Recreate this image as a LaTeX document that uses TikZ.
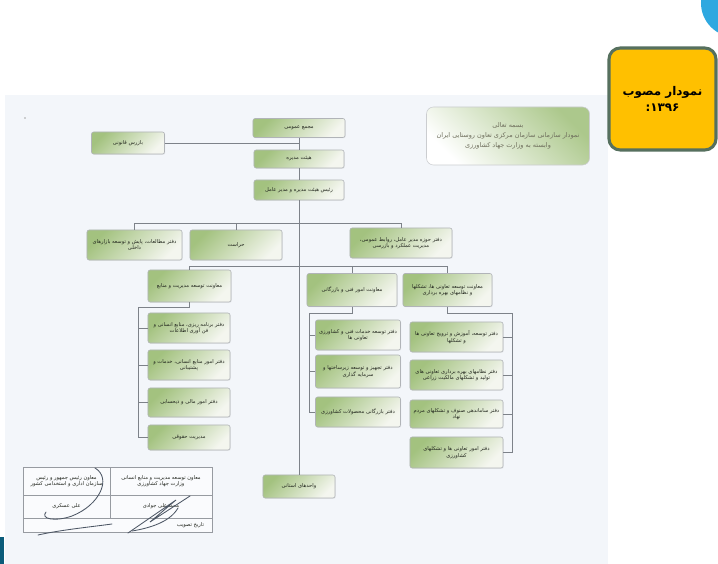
\documentclass[tikz,border=0pt]{standalone}
\usepackage{fontspec}
\usepackage{tikz}
\usetikzlibrary{shadows}
\TeXXeTstate=1
\newfontfamily\arabicfont[Script=Arabic]{DejaVu Sans}
\newcommand\fa[1]{\beginR#1\endR}
\newcommand\orgfont{\arabicfont\fontsize{3.7}{4.7}\selectfont}
\definecolor{page}{HTML}{F3F6FA}
\definecolor{boxgreen}{HTML}{A3C27F}
\definecolor{boxpale}{HTML}{F4F6EF}
\definecolor{linegray}{HTML}{7D8289}
\definecolor{inkdark}{HTML}{22261E}
\definecolor{titleink}{HTML}{6E6E5C}
\definecolor{yellowfill}{HTML}{FFC000}
\definecolor{yellowedge}{HTML}{56705E}
\definecolor{bluedot}{HTML}{2EA8E0}
\definecolor{tealbar}{HTML}{0B5C7A}
\definecolor{signink}{HTML}{4C5664}
\tikzset{
  orgbox/.style={draw=linegray!60, rounded corners=1.5pt, top color=boxgreen, bottom color=boxpale,
    shading angle=45, inner sep=1pt, align=center, font=\orgfont, text=inkdark,
    drop shadow={opacity=0.18, shadow xshift=0.5pt, shadow yshift=-0.5pt}},
  link/.style={draw=linegray, line width=0.5pt},
  tabline/.style={draw=linegray!80, line width=0.4pt},
  lab/.style={font=\orgfont, text=inkdark, align=center},
  signline/.style={draw=signink, line width=0.6pt, line cap=round},
}

\begin{document}
\begin{tikzpicture}[x=0.025cm, y=-0.025cm]
\useasboundingbox (0,0) rectangle (718,564);
% slide background
\fill[white] (0,0) rectangle (718,564);
\fill[bluedot] (735,3) circle[radius=0.85cm];
\fill[tealbar] (0,537) rectangle (4,564);
\fill[page] (5,95) rectangle (608,564);
\fill[gray!70] (25,118) circle[radius=0.6pt];

% yellow label
\node[draw=yellowedge, line width=2.2pt, fill=yellowfill, rounded corners=8pt,
  minimum width=2.675cm, minimum height=2.55cm, align=center,
  font=\arabicfont\bfseries\fontsize{8.5}{11}\selectfont] (approved) at (662.5,99)
  {\fa{نمودار مصوب}\\\fa{۱۳۹۶:}};

% title
\node[draw=linegray!40, rounded corners=5pt, top color=boxgreen!90, bottom color=white,
  shading angle=-45, minimum width=4.075cm, minimum height=1.45cm, align=center,
  font=\arabicfont\fontsize{4.6}{7}\selectfont, text=titleink] (title) at (508,136)
  {\fa{بسمه تعالی}\\\fa{نمودار سازمانی سازمان مرکزی تعاون روستایی ایران}\\\fa{وابسته به وزارت جهاد کشاورزی}};

% top of the chart
\node[orgbox, minimum width=2.3cm, minimum height=0.475cm] (gm) at (299,128) {\fa{مجمع عمومی}};
\node[orgbox, minimum width=2.25cm, minimum height=0.45cm] (hm) at (299,159) {\fa{هیئت مدیره}};
\node[orgbox, minimum width=2.25cm, minimum height=0.5cm] (ra) at (299,190) {\fa{رئیس هیئت مدیره و مدیر عامل}};
\node[orgbox, minimum width=1.825cm, minimum height=0.55cm] (bq) at (128,143) {\fa{بازرس قانونی}};
\node[orgbox, minimum width=1.8cm, minimum height=0.575cm] (ost) at (299,486.5) {\fa{واحدهای استانی}};

% second row
\node[orgbox, minimum width=2.375cm, minimum height=0.75cm] (d1) at (134.5,245)
  {\fa{دفتر مطالعات، پایش و توسعه بازارهای}\\\fa{داخلی}};
\node[orgbox, minimum width=2.3cm, minimum height=0.75cm] (hr) at (236,245) {\fa{حراست}};
\node[orgbox, minimum width=2.55cm, minimum height=0.75cm] (dh) at (401,243)
  {\fa{دفتر حوزه مدیر عامل، روابط عمومی،}\\\fa{مدیریت عملکرد و بازرسی}};

% deputies
\node[orgbox, minimum width=2.075cm, minimum height=0.8cm] (m1) at (189.5,286) {\fa{معاونت توسعه مدیریت و منابع}};
\node[orgbox, minimum width=2.25cm, minimum height=0.825cm] (m2) at (352,290) {\fa{معاونت امور فنی و بازرگانی}};
\node[orgbox, minimum width=2.225cm, minimum height=0.825cm] (m3) at (447.5,290)
  {\fa{معاونت توسعه تعاونی ها، تشکلها}\\\fa{و نظامهای بهره برداری}};

% offices, left
\node[orgbox, minimum width=2.05cm, minimum height=0.75cm] (l1) at (189,328)
  {\fa{دفتر برنامه ریزی، منابع انسانی و}\\\fa{فن آوری اطلاعات}};
\node[orgbox, minimum width=2.05cm, minimum height=0.75cm] (l2) at (189,365)
  {\fa{دفتر امور منابع انسانی، خدمات و}\\\fa{پشتیبانی}};
\node[orgbox, minimum width=2.05cm, minimum height=0.725cm] (l3) at (189,402.5) {\fa{دفتر امور مالی و ذیحسابی}};
\node[orgbox, minimum width=2.05cm, minimum height=0.625cm] (l4) at (189,437.5) {\fa{مدیریت حقوقی}};

% offices, middle
\node[orgbox, minimum width=2.125cm, minimum height=0.75cm] (c1) at (358,335)
  {\fa{دفتر توسعه خدمات فنی و کشاورزی}\\\fa{تعاونی ها}};
\node[orgbox, minimum width=2.125cm, minimum height=0.825cm] (c2) at (358,371.5)
  {\fa{دفتر تجهیز و توسعه زیرساختها و}\\\fa{سرمایه گذاری}};
\node[orgbox, minimum width=2.125cm, minimum height=0.75cm] (c3) at (358,412) {\fa{دفتر بازرگانی محصولات کشاورزی}};

% offices, right
\node[orgbox, minimum width=2.325cm, minimum height=0.75cm] (r1) at (456.5,337)
  {\fa{دفتر توسعه، آموزش و ترویج تعاونی ها}\\\fa{و تشکلها}};
\node[orgbox, minimum width=2.325cm, minimum height=0.75cm] (r2) at (456.5,375)
  {\fa{دفتر نظامهای بهره برداری تعاونی های}\\\fa{تولید و تشکلهای مالکیت زراعی}};
\node[orgbox, minimum width=2.325cm, minimum height=0.7cm] (r3) at (456.5,414)
  {\fa{دفتر ساماندهی صنوف و تشکلهای مردم}\\\fa{نهاد}};
\node[orgbox, minimum width=2.325cm, minimum height=0.775cm] (r4) at (456.5,452.5)
  {\fa{دفتر امور تعاونی ها و تشکلهای}\\\fa{کشاورزی}};

% connectors
\coordinate (busA) at (0,223);
\coordinate (busB) at (0,266);
\coordinate (brL) at (138,307);
\coordinate (brC) at (309,313);
\coordinate (brR) at (512,313);
\draw[link] (gm.south) -- (hm.north);
\draw[link] (hm.south) -- (ra.north);
\draw[link] (ra.south) -- (ost.north);
\draw[link] (bq.east) -- (bq.east -| gm.south);
\draw[link] (d1.north) -- (d1.north |- busA) -- (dh.north |- busA) -- (dh.north);
\draw[link] (hr.north) -- (hr.north |- busA);
\draw[link] (m1.north) -- (m1.north |- busB) -- (m3.north |- busB) -- (m3.north);
\draw[link] (m2.north) -- (m2.north |- busB);
\draw[link] (m1.south) -- (m1.south |- brL) -- (brL) -- (brL |- l4.west) -- (l4.west);
\foreach \n in {l1,l2,l3} \draw[link] (\n.west) -- (\n.west -| brL);
\draw[link] (m2.south) -- (m2.south |- brC) -- (brC) -- (brC |- c3.west) -- (c3.west);
\foreach \n in {c1,c2} \draw[link] (\n.west) -- (\n.west -| brC);
\draw[link] (m3.south) -- (m3.south |- brR) -- (brR) -- (brR |- r4.east) -- (r4.east);
\foreach \n in {r1,r2,r3} \draw[link] (\n.east) -- (\n.east -| brR);

% approval table
\fill[white!60!page] (23,467) rectangle (212,532);
\draw[tabline] (23,467) rectangle (212,532);
\draw[tabline] (23,495) -- (212,495);
\draw[tabline] (23,518) -- (212,518);
\draw[tabline] (110,467) -- (110,518);
\node[lab] (sgA) at (161,481) {\fa{معاون توسعه مدیریت و منابع انسانی}\\\fa{وزارت جهاد کشاورزی}};
\node[lab] (sgB) at (66.5,481) {\fa{معاون رئیس جمهور و رئیس}\\\fa{سازمان اداری و استخدامی کشور}};
\node[lab] (sgC) at (161,506.5) {\fa{محمدعلی جوادی}};
\node[lab] (sgD) at (66.5,506.5) {\fa{علی عسکری}};
\node[lab, anchor=east] (sgE) at (209,525) {\fa{تاریخ تصویب}};
% signatures
\draw[signline] (95,468) .. controls (112,478) and (100,505) .. (72,516) .. controls (55,522) and (40,519) .. (46,512);
\draw[signline] (38,535) .. controls (60,530) and (90,527) .. (112,524);
\draw[signline] (128,533) -- (176,500) -- (150,522) -- (190,496);
\draw[signline] (132,531) .. controls (150,528) and (170,522) .. (178,508);
\end{tikzpicture}
\end{document}
